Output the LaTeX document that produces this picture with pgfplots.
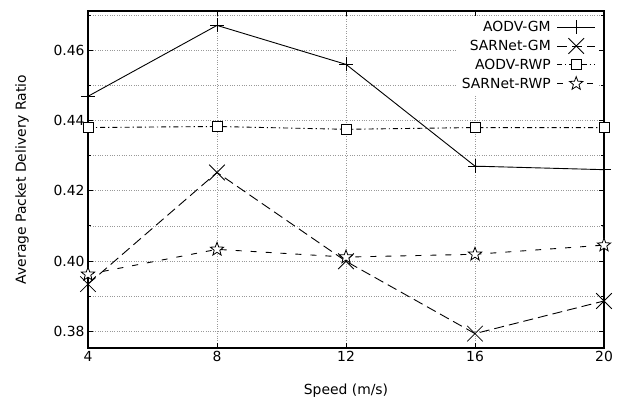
\documentclass[border=0pt]{standalone}
\usepackage{pgfplots}
\pgfplotsset{compat=1.18}
\usepackage{fontspec}
\setmainfont{DejaVu Sans}
\newcommand{\fs}{\fontsize{13.9}{16.5}\selectfont}
\pgfdeclareplotmark{ostar}{%
  \pgfpathmoveto{\pgfqpointpolar{90}{\pgfplotmarksize}}%
  \pgfpathlineto{\pgfqpointpolar{126}{0.42\pgfplotmarksize}}%
  \pgfpathlineto{\pgfqpointpolar{162}{\pgfplotmarksize}}%
  \pgfpathlineto{\pgfqpointpolar{198}{0.42\pgfplotmarksize}}%
  \pgfpathlineto{\pgfqpointpolar{234}{\pgfplotmarksize}}%
  \pgfpathlineto{\pgfqpointpolar{270}{0.42\pgfplotmarksize}}%
  \pgfpathlineto{\pgfqpointpolar{306}{\pgfplotmarksize}}%
  \pgfpathlineto{\pgfqpointpolar{342}{0.42\pgfplotmarksize}}%
  \pgfpathlineto{\pgfqpointpolar{18}{\pgfplotmarksize}}%
  \pgfpathlineto{\pgfqpointpolar{54}{0.42\pgfplotmarksize}}%
  \pgfpathclose
  \pgfusepathqfillstroke}
\begin{document}
\begin{tikzpicture}
\begin{axis}[
  scale only axis,
  width=516pt, height=337pt,
  xmin=4, xmax=20, ymin=0.3752, ymax=0.4712,
  xtick={4,8,12,16,20},
  ytick={0.38,0.40,0.42,0.44,0.46},
  minor ytick={0.37,0.39,0.41,0.43,0.45,0.47},
  yticklabel style={/pgf/number format/.cd, fixed, fixed zerofill, precision=2},
  /pgf/number format/assume math mode=true,
  tick label style={font=\fs},
  label style={font=\fs},
  xlabel={Speed (m/s)},
  ylabel={Average Packet Delivery Ratio},
  xlabel style={yshift=-15pt},
  ylabel style={yshift=18pt},
  tick align=inside,
  major tick length=5pt, minor tick length=3pt,
  tick style={black, line width=0.8pt},
  axis line style={line width=1.1pt},
  grid=both,
  major grid style={gray!80, dotted, line width=0.6pt},
  minor grid style={gray!80, dotted, line width=0.6pt},
  legend style={at={(0.99,0.985)}, anchor=north east, draw=none, fill=white,
    row sep=3pt, inner sep=3pt, column sep=4pt},
  legend cell align=right,
  legend plot pos=right,
  legend image code/.code={\draw[mark repeat=2,mark phase=2] plot coordinates {(0pt,0pt)(19pt,0pt)(38pt,0pt)};},
]
\addplot[black, line width=0.9pt, mark=+, mark size=7pt, mark options={solid, line width=0.8pt}]
  coordinates {(4,0.4469)(8,0.4671)(12,0.4560)(16,0.4270)(20,0.4260)};
\addlegendentry{\fs AODV-GM}
\addplot[black, line width=0.9pt, dash pattern=on 10pt off 5pt, mark=x, mark size=11pt, mark options={solid, line width=0.8pt}]
  coordinates {(4,0.3934)(8,0.4252)(12,0.3999)(16,0.3793)(20,0.3886)};
\addlegendentry{\fs SARNet-GM}
\addplot[black, line width=0.9pt, dash pattern=on 5pt off 3pt on 1.2pt off 3pt, mark=square*, mark size=5pt, mark options={solid, fill=white, line width=0.8pt}]
  coordinates {(4,0.4380)(8,0.4383)(12,0.4375)(16,0.4380)(20,0.4380)};
\addlegendentry{\fs AODV-RWP}
\addplot[black, line width=0.9pt, dash pattern=on 6pt off 9pt, mark=ostar, mark size=7pt, mark options={solid, fill=white, line width=0.8pt}]
  coordinates {(4,0.3962)(8,0.4033)(12,0.4011)(16,0.4019)(20,0.4045)};
\addlegendentry{\fs SARNet-RWP}
\end{axis}
\pgfresetboundingbox
\path (-88pt,-50pt) rectangle (532pt,348pt);
\end{tikzpicture}
\end{document}
